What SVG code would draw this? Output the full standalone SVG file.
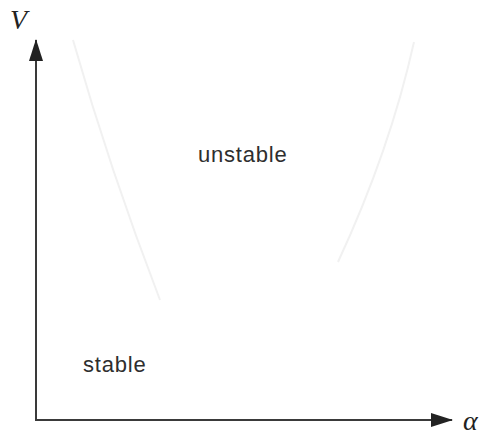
<svg xmlns="http://www.w3.org/2000/svg" width="484" height="435" viewBox="0 0 484 435">
<style>
.axis{stroke:#3a3a3a;stroke-width:2;fill:none}
.curve{stroke:#f1f1f1;stroke-width:2;fill:none}
.lbl{font-family:"Liberation Sans",Arial,sans-serif;font-size:22px;fill:#2e2e2e;letter-spacing:0.8px}
.ax{font-family:"Liberation Serif","Times New Roman",serif;font-style:italic;fill:#222}
</style>
<defs>
<marker id="ah" markerWidth="22" markerHeight="14" refX="21" refY="7" orient="auto" markerUnits="userSpaceOnUse">
<path d="M0,0 L22,7 L0,14 Z" fill="#222"/>
</marker>
</defs>
<rect width="484" height="435" fill="#fff"/>
<g id="curve">
<path class="curve" d="M73,40 Q110,170 160,300"/>
<path class="curve" d="M414,42 Q390,150 338,262"/>
</g>
<g id="connectors">
<line class="axis" x1="36" y1="421" x2="36" y2="40" marker-end="url(#ah)"/>
<line class="axis" x1="35" y1="420" x2="452" y2="420" marker-end="url(#ah)"/>
</g>
<g id="labels">
<text class="ax" x="10" y="29" font-size="28">V</text>
<text class="ax" x="463" y="430" font-size="28">α</text>
<text id="unstable" class="lbl" x="198" y="162">unstable</text>
<text id="stable" class="lbl" x="83" y="372">stable</text>
</g>
</svg>
